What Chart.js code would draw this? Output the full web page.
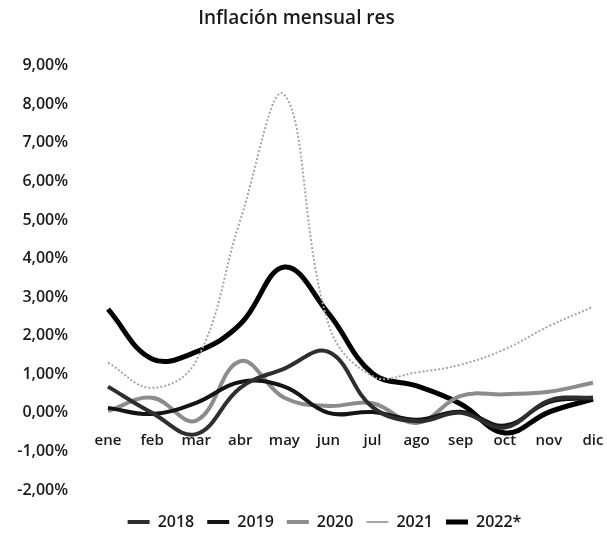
<!DOCTYPE html>
<html><head><meta charset="utf-8">
<script src="https://cdn.jsdelivr.net/npm/chart.js@4.4.1/dist/chart.umd.min.js"></script>
<style>html,body{margin:0;padding:0;background:#fff;} #wrap{width:607px;height:536px;position:relative;}</style>
</head><body><div id="wrap"><canvas id="c"></canvas></div>
<script>
const categories = ['ene','feb','mar','abr','may','jun','jul','ago','sep','oct','nov','dic'];
const seriesNames = ['2018','2019','2020','2021','2022*'];
const s2018 = [0.68, 0.00, -0.55, 0.65, 1.15, 1.58, 0.15, -0.22, 0.00, -0.38, 0.32, 0.40];
const s2019 = [0.13, -0.03, 0.26, 0.80, 0.68, 0.00, 0.02, -0.18, 0.03, -0.33, 0.28, 0.38];
const s2020 = [0.05, 0.39, -0.20, 1.34, 0.39, 0.18, 0.25, -0.26, 0.44, 0.48, 0.55, 0.78];
const s2021 = [1.30, 0.65, 1.35, 5.00, 8.25, 2.30, 0.95, 1.05, 1.25, 1.65, 2.25, 2.75];
const s2022 = [2.69, 1.40, 1.58, 2.30, 3.78, 2.58, 1.02, 0.70, 0.23, -0.52, 0.02, 0.36];
const yTickLabels = ['-2,00%','-1,00%','0,00%','1,00%','2,00%','3,00%','4,00%','5,00%','6,00%','7,00%','8,00%','9,00%'];
const titleText = 'Inflación mensual res';

const FONT = "'Open Sans', 'Noto Sans', sans-serif";
const seriesStyle = [
  {color:'#2e2e2e', width:4, dash:[]},
  {color:'#141414', width:4, dash:[]},
  {color:'#8c8c8c', width:4, dash:[]},
  {color:'#a6a6a6', width:2, dash:[2,2]},
  {color:'#000000', width:5, dash:[]}
];
const seriesData = [s2018, s2019, s2020, s2021, s2022];

const legendShift = {
  id: 'legendShift',
  afterLayout(chart) {
    const l = chart.legend;
    if (!l) return;
    l.left += 28; l.right += 28;
    l.top += 11; l.bottom += 11;
  }
};

new Chart(document.getElementById('c'), {
  type: 'line',
  data: {
    labels: categories,
    datasets: seriesNames.map((n, i) => ({
      label: n,
      data: seriesData[i],
      borderColor: seriesStyle[i].color,
      backgroundColor: seriesStyle[i].color,
      borderWidth: seriesStyle[i].width,
      borderDash: seriesStyle[i].dash,
      pointRadius: 0,
      tension: 0.4,
      fill: false
    }))
  },
  plugins: [legendShift],
  options: {
    responsive: true,
    maintainAspectRatio: false,
    animation: false,
    layout: { padding: { left: 0, right: 14, top: 0, bottom: 7 } },
    plugins: {
      title: {
        display: true, text: titleText, color: '#1a1a1a',
        font: { family: FONT, size: 19, weight: '600' },
        padding: { top: 7, bottom: 36 }
      },
      legend: {
        position: 'bottom',
        labels: {
          usePointStyle: true, pointStyle: 'line', pointStyleWidth: 22,
          color: '#1a1a1a', padding: 13,
          font: { family: FONT, size: 16, weight: '600' }
        }
      },
      tooltip: { enabled: false }
    },
    scales: {
      x: {
        position: { y: 0 },
        grid: { display: false, drawTicks: false },
        border: { display: false },
        afterFit: s => { s.paddingLeft = 0; s.paddingRight = 0; },
        ticks: { color: '#1a1a1a', padding: 19, maxRotation: 0, autoSkip: false,
                 font: { family: FONT, size: 15, weight: '600' } }
      },
      y: {
        min: -2, max: 9,
        grid: { display: false, drawTicks: false },
        border: { display: false },
        afterFit: s => { s.width = 108; s.paddingTop = 0; s.paddingBottom = 0; },
        ticks: { stepSize: 1, padding: 40, color: '#1a1a1a',
                 font: { family: FONT, size: 16, weight: '600' },
                 callback: (v, i) => yTickLabels[i] }
      }
    }
  }
});
</script></body></html>
